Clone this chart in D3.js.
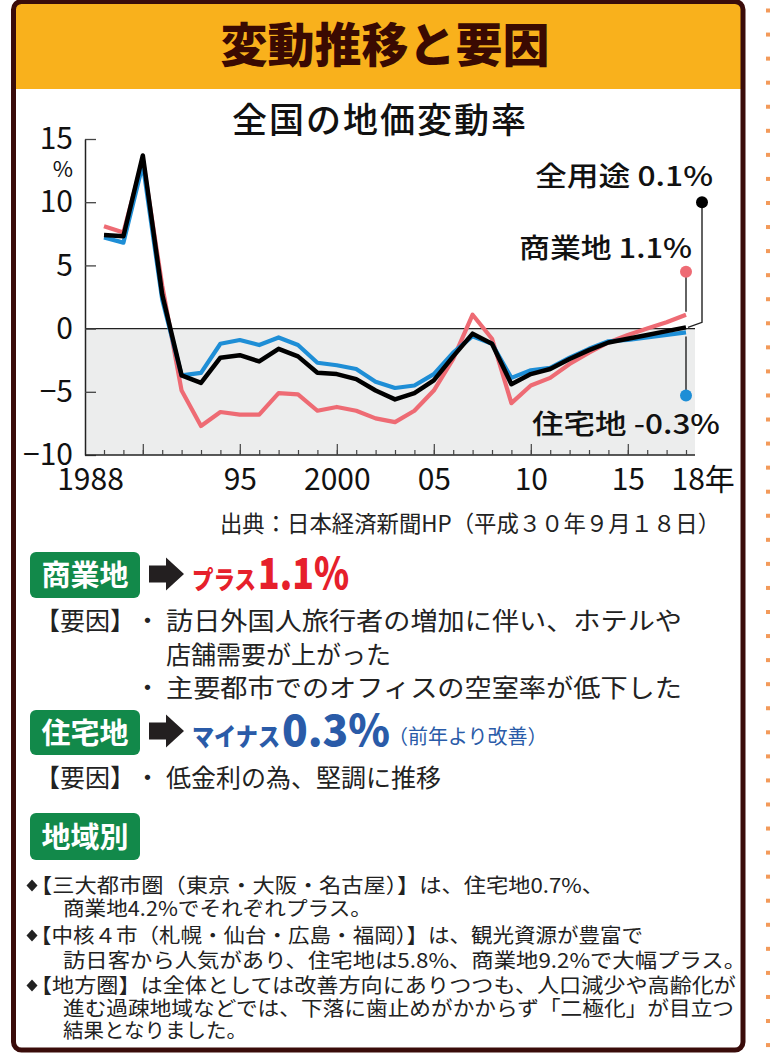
<!DOCTYPE html>
<html>
<head>
<meta charset="utf-8">
<script src="https://cdn.jsdelivr.net/npm/d3@7"></script>
<style>
  body { margin: 0; background: #fff; }
  svg { display: block; font-family: "Noto Sans CJK JP", sans-serif; }
</style>
</head>
<body>
<div id="chart"></div>
<script>
// ---- data ----
const years = [1988, 1989, 1990, 1991, 1992, 1993, 1994, 1995, 1996, 1997,
  1998, 1999, 2000, 2001, 2002, 2003, 2004, 2005, 2006, 2007,
  2008, 2009, 2010, 2011, 2012, 2013, 2014, 2015, 2016, 2017, 2018];

// 商業地
const commercial = [8.1, 7.6, 13.4, 3.4, -4.9, -7.7, -6.6, -6.8, -6.8, -5.1,
  -5.2, -6.5, -6.2, -6.5, -7.1, -7.4, -6.5, -4.9, -2.4, 1.1,
  -0.8, -5.9, -4.5, -3.9, -2.8, -1.9, -1.1, -0.5, 0.0, 0.5, 1.1];
// 住宅地
const residential = [7.2, 6.8, 13.0, 2.3, -3.7, -3.5, -1.2, -0.9, -1.3, -0.7,
  -1.3, -2.7, -2.9, -3.2, -4.2, -4.7, -4.5, -3.6, -1.9, -0.6,
  -1.2, -3.9, -3.3, -3.1, -2.3, -1.6, -1.0, -0.9, -0.7, -0.5, -0.3];
// 全用途
const allUse = [7.4, 7.3, 13.7, 2.7, -3.7, -4.3, -2.3, -2.1, -2.6, -1.6,
  -2.2, -3.5, -3.6, -4.0, -4.9, -5.6, -5.1, -4.1, -2.2, -0.4,
  -1.2, -4.4, -3.6, -3.2, -2.4, -1.7, -1.1, -0.8, -0.5, -0.2, 0.1];

const yTicks = [-10, -5, 0, 5, 10, 15];
const majorYears = [1990, 1995, 2000, 2005, 2010, 2015];
const xLabelYears = [1988, 1995, 2000, 2005, 2010, 2015, 2018];
const xLabels = ["1988", "95", "2000", "05", "10", "15", "18年"];

const series = [
  { name: "商業地", values: commercial, color: "#EE6B74", width: 4.2, label: "商業地 1.1%", dotAt: 4.5 },
  { name: "住宅地", values: residential, color: "#1E8ED6", width: 4.2, label: "住宅地 -0.3%", dotAt: -5.3 },
  { name: "全用途", values: allUse, color: "#000", width: 4.5, label: "全用途 0.1%", dotAt: 10 }
];

const W = 770, H = 1056;
const svg = d3.select("#chart").append("svg").attr("width", W).attr("height", H);

// dotted guide on the right
svg.selectAll("rect.guide")
  .data(d3.range(10.5, 1052, 24.06))
  .join("rect")
  .attr("class", "guide")
  .attr("x", 766).attr("y", (d) => d - 2)
  .attr("width", 5).attr("height", 4)
  .attr("fill", "#F39A5A");

// header + frame
svg.append("rect").attr("x", 15).attr("y", 3).attr("width", 727).attr("height", 86).attr("fill", "#F9B11C");
svg.append("text").attr("x", 385).attr("y", 62).attr("text-anchor", "middle")
  .attr("font-size", 47).attr("font-weight", 900).attr("fill", "#3A0A02")
  .text("変動推移と要因");
svg.append("rect").attr("x", 13.5).attr("y", 1.5).attr("width", 729.5).attr("height", 1048.5)
  .attr("rx", 8).attr("fill", "none").attr("stroke", "#3A0C0A").attr("stroke-width", 5);

// ---- chart ----
const x = d3.scaleLinear().domain([1988, 2018]).range([104, 686]);
const y = d3.scaleLinear().domain([-10, 15]).range([455, 139]);
const plotL = 85, plotR = 695;

svg.append("text").attr("x", 380).attr("y", 133).attr("text-anchor", "middle")
  .attr("font-size", 35).attr("font-weight", 500).attr("letter-spacing", 2).attr("fill", "#111")
  .text("全国の地価変動率");

// negative zone
svg.append("rect")
  .attr("x", plotL).attr("y", y(0))
  .attr("width", plotR - plotL).attr("height", y(-10) - y(0))
  .attr("fill", "#ECEDED");

svg.append("line")
  .attr("x1", plotL).attr("x2", plotR).attr("y1", y(0)).attr("y2", y(0))
  .attr("stroke", "#222").attr("stroke-width", 1.3);

// y axis
svg.append("g")
  .attr("transform", `translate(${plotL},0)`)
  .call(d3.axisRight(y).tickValues(yTicks).tickSize(11).tickSizeOuter(0).tickFormat(""))
  .call((g) => g.select(".domain").attr("stroke", "#222").attr("stroke-width", 1.5))
  .call((g) => g.selectAll(".tick line").attr("stroke", "#444").attr("stroke-width", 1.3));

svg.append("g")
  .attr("transform", `translate(${plotL},0)`)
  .call(d3.axisLeft(y).tickValues(yTicks).tickSize(0).tickPadding(12))
  .call((g) => g.select(".domain").remove())
  .call((g) => g.selectAll("text")
    .attr("font-family", "Noto Sans CJK JP").attr("font-size", 30).attr("fill", "#111"));

svg.append("text").attr("x", 73).attr("y", 177).attr("text-anchor", "end")
  .attr("font-size", 22).attr("fill", "#111").text("%");

// x axis
svg.append("line")
  .attr("x1", plotL).attr("x2", plotR).attr("y1", y(-10)).attr("y2", y(-10))
  .attr("stroke", "#222").attr("stroke-width", 1.5);

svg.append("g")
  .attr("transform", `translate(0,${y(-10)})`)
  .call(d3.axisTop(x).tickValues(years).tickSize(5).tickFormat(""))
  .call((g) => g.select(".domain").remove())
  .call((g) => g.selectAll(".tick line").attr("stroke", "#444").attr("stroke-width", 1.2));

svg.append("g")
  .attr("transform", `translate(0,${y(-10)})`)
  .call(d3.axisTop(x).tickValues(majorYears).tickSize(11).tickFormat(""))
  .call((g) => g.select(".domain").remove())
  .call((g) => g.selectAll(".tick line").attr("stroke", "#444").attr("stroke-width", 1.2));

svg.append("g")
  .attr("transform", `translate(0,${y(-10)})`)
  .call(d3.axisBottom(x).tickValues(xLabelYears).tickSize(0).tickPadding(14)
    .tickFormat((d, i) => xLabels[i]))
  .call((g) => g.select(".domain").remove())
  .call((g) => g.selectAll("text")
    .attr("font-family", "Noto Sans CJK JP").attr("font-size", 30).attr("fill", "#111")
    .attr("dx", (d) => (d === 1988 ? -14 : d === 2018 ? -15 : 0))
    .attr("text-anchor", (d) => (d === 2018 ? "start" : "middle")));

// lines
const line = d3.line()
  .x((d, i) => x(years[i]))
  .y((d) => y(d));

svg.selectAll("path.series")
  .data(series)
  .join("path")
  .attr("class", "series")
  .attr("d", (s) => line(s.values))
  .attr("fill", "none")
  .attr("stroke", (s) => s.color)
  .attr("stroke-width", (s) => s.width)
  .attr("stroke-linejoin", "round");

// callouts
const last = years.length - 1;
const xEnd = x(years[last]);
const [com, res, all] = series;

svg.append("path")
  .attr("d", `M${xEnd},${y(com.values[last]) - 3}V${y(com.dotAt)}`)
  .attr("stroke", "#222").attr("stroke-width", 1.4).attr("fill", "none");
svg.append("path")
  .attr("d", `M${xEnd},${y(res.values[last]) + 4}V${y(res.dotAt)}`)
  .attr("stroke", "#222").attr("stroke-width", 1.4).attr("fill", "none");
svg.append("path")
  .attr("d", `M${xEnd + 2},${y(all.values[last])}L${xEnd + 16},${y(all.values[last]) - 5}V${y(all.dotAt)}`)
  .attr("stroke", "#222").attr("stroke-width", 1.4).attr("fill", "none");

svg.append("circle").attr("cx", xEnd).attr("cy", y(com.dotAt)).attr("r", 6).attr("fill", com.color);
svg.append("circle").attr("cx", xEnd).attr("cy", y(res.dotAt)).attr("r", 6).attr("fill", res.color);
svg.append("circle").attr("cx", xEnd + 16).attr("cy", y(all.dotAt)).attr("r", 6).attr("fill", "#000");

const calloutText = [
  { text: all.label, x: 535, y: 186, len: 178 },
  { text: com.label, x: 519, y: 258, len: 173 },
  { text: res.label, x: 532, y: 434, len: 188 }
];
svg.selectAll("text.callout")
  .data(calloutText)
  .join("text")
  .attr("class", "callout")
  .attr("x", (d) => d.x).attr("y", (d) => d.y)
  .attr("font-size", 27).attr("font-weight", 500).attr("fill", "#111")
  .attr("textLength", (d) => d.len).attr("lengthAdjust", "spacingAndGlyphs")
  .text((d) => d.text);

// source
svg.append("text").attr("x", 220).attr("y", 532)
  .attr("font-size", 22.5).attr("fill", "#222")
  .attr("textLength", 500).attr("lengthAdjust", "spacingAndGlyphs")
  .text("出典：日本経済新聞HP（平成３０年９月１８日）");

// ---- text section ----
function badge(label, cy, h) {
  svg.append("rect").attr("x", 30).attr("y", cy - h / 2).attr("width", 110).attr("height", h)
    .attr("rx", 6).attr("fill", "#12894A");
  svg.append("text").attr("x", 85).attr("y", cy + 11).attr("text-anchor", "middle")
    .attr("font-size", 29).attr("font-weight", 700).attr("fill", "#fff").text(label);
}
function arrow(cy) {
  svg.append("path")
    .attr("d", `M149,${cy - 8.5}H166V${cy - 16.5}L184,${cy}L166,${cy + 16.5}V${cy + 8.5}H149Z`)
    .attr("fill", "#231F20");
}
// one <text> per paragraph, one <tspan> per printed line
function paragraph(lines, size) {
  const t = svg.append("text").attr("font-size", size).attr("fill", "#222");
  lines.forEach((l) => {
    const s = t.append("tspan").attr("x", l.x).attr("y", l.y).text(l.text);
    if (l.len) s.attr("textLength", l.len).attr("lengthAdjust", "spacingAndGlyphs");
  });
}

badge("商業地", 575, 46);
arrow(574);
svg.append("text").attr("x", 192).attr("y", 589)
  .attr("font-size", 25).attr("font-weight", 900).attr("fill", "#E6202B")
  .attr("textLength", 64).attr("lengthAdjust", "spacingAndGlyphs")
  .text("プラス");
svg.append("text").attr("x", 258).attr("y", 589)
  .attr("font-size", 43).attr("font-weight", 900).attr("fill", "#E6202B")
  .attr("textLength", 91).attr("lengthAdjust", "spacingAndGlyphs")
  .text("1.1%");

paragraph([
  { text: "【要因】", x: 35, y: 630 },
  { text: "・", x: 135, y: 630 },
  { text: "訪日外国人旅行者の増加に伴い、ホテルや", x: 166, y: 630, len: 516 },
  { text: "店舗需要が上がった", x: 166, y: 664 },
  { text: "・", x: 135, y: 697 },
  { text: "主要都市でのオフィスの空室率が低下した", x: 166, y: 697, len: 516 }
], 25);

badge("住宅地", 732.5, 45);
arrow(731);
svg.append("text").attr("x", 192).attr("y", 746)
  .attr("font-size", 25).attr("font-weight", 900).attr("fill", "#2A5BA8")
  .attr("textLength", 88).attr("lengthAdjust", "spacingAndGlyphs")
  .text("マイナス");
svg.append("text").attr("x", 282).attr("y", 746)
  .attr("font-size", 43).attr("font-weight", 900).attr("fill", "#2A5BA8")
  .attr("textLength", 108).attr("lengthAdjust", "spacingAndGlyphs")
  .text("0.3%");
svg.append("text").attr("x", 388).attr("y", 744)
  .attr("font-size", 20).attr("fill", "#2A5BA8")
  .text("（前年より改善）");

paragraph([
  { text: "【要因】", x: 35, y: 787 },
  { text: "・", x: 135, y: 787 },
  { text: "低金利の為、堅調に推移", x: 166, y: 787 }
], 25);

badge("地域別", 836.5, 47);

const bulletParas = [
  [
    { text: "【三大都市圏（東京・大阪・名古屋）】は、住宅地0.7%、", x: 30, y: 893, len: 574 },
    { text: "商業地4.2%でそれぞれプラス。", x: 63, y: 916, len: 309 }
  ],
  [
    { text: "【中核４市（札幌・仙台・広島・福岡）】は、観光資源が豊富で", x: 30, y: 943, len: 613 },
    { text: "訪日客から人気があり、住宅地は5.8%、商業地9.2%で大幅プラス。", x: 63, y: 968, len: 683 }
  ],
  [
    { text: "【地方圏】は全体としては改善方向にありつつも、人口減少や高齢化が", x: 30, y: 993, len: 706 },
    { text: "進む過疎地域などでは、下落に歯止めがかからず「二極化」が目立つ", x: 63, y: 1016, len: 671 },
    { text: "結果となりました。", x: 63, y: 1038 }
  ]
];
bulletParas.forEach((p) => {
  const cy = p[0].y - 7.5;
  svg.append("path")
    .attr("d", `M32,${cy - 6}L37.5,${cy}L32,${cy + 6}L26.5,${cy}Z`)
    .attr("fill", "#222");
  paragraph(p, 20.5);
});
</script>
</body>
</html>
